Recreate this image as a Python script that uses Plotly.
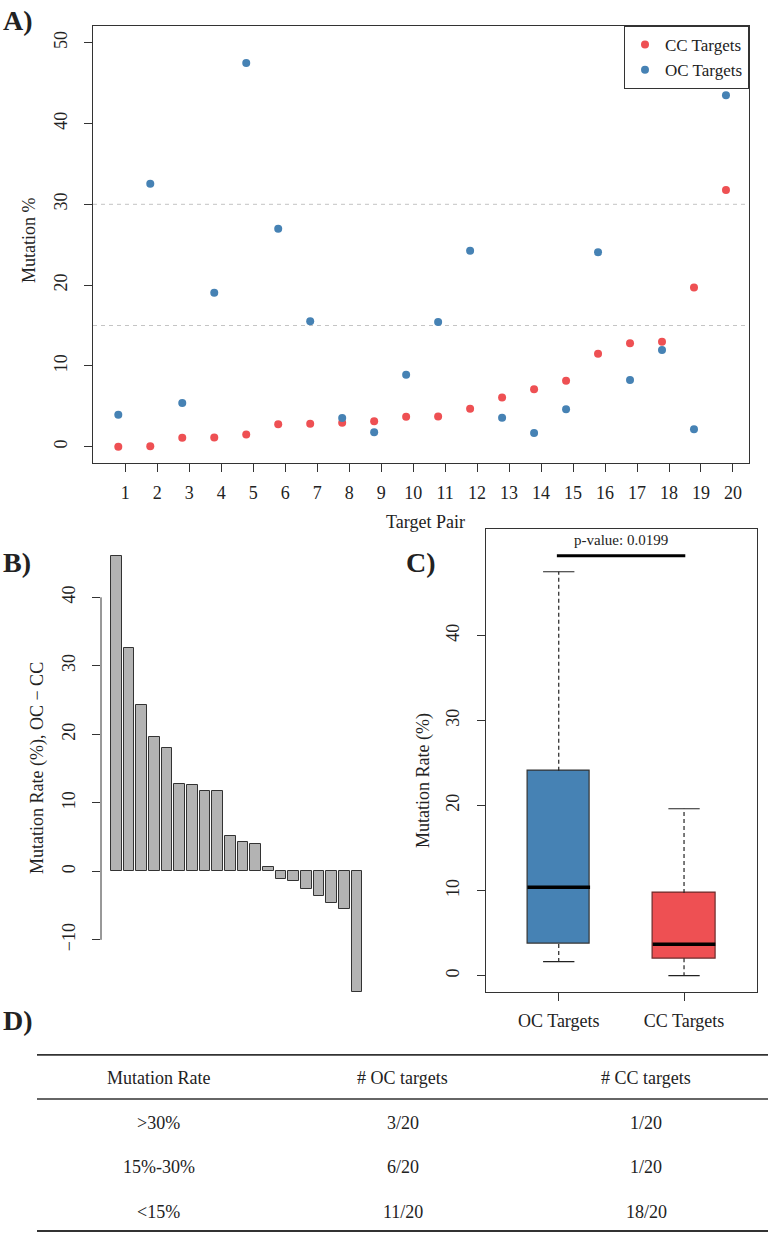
import plotly.graph_objects as go

# ---------------- data ----------------
pairs = list(range(1, 21))
pair_labels = [str(i) for i in pairs]
cc_targets = [0.0, 0.05, 1.1, 1.15, 1.5, 2.77, 2.85, 2.97, 3.14, 3.71,
              3.75, 4.7, 6.1, 7.1, 8.17, 11.5, 12.8, 13.0, 19.7, 31.77]
oc_targets = [3.96, 32.55, 5.41, 19.06, 47.49, 26.98, 15.52, 3.55, 1.78, 8.91,
              15.43, 24.26, 3.59, 1.70, 4.63, 24.06, 8.25, 11.97, 2.15, 43.49]
thresholds = [15, 30]

diff_sorted = [46.0, 32.55, 24.28, 19.56, 17.95, 12.74, 12.55, 11.72, 11.67, 5.2,
               4.33, 3.94, 0.58, -1.07, -1.36, -2.54, -3.6, -4.58, -5.5, -17.58]

box_groups = ["OC Targets", "CC Targets"]
box_q1 = [3.72, 2.04]
box_median = [10.39, 3.69]
box_q3 = [24.09, 9.72]
box_low = [1.65, 0.0]
box_high = [47.47, 19.62]
p_value_text = "p-value: 0.0199"

table_header = ["Mutation Rate", "# OC targets", "# CC targets"]
table_rows = [
    [">30%", "3/20", "1/20"],
    ["15%-30%", "6/20", "1/20"],
    ["<15%", "11/20", "18/20"],
]

# ---------------- style ----------------
W, H = 770, 1233
FONT = "Liberation Serif, Times New Roman, serif"
RED = "#EE5053"
BLUE = "#4682B4"
INK = "#222222"


def X(px):
    return px / W


def Y(py):
    return 1 - py / H


fig = go.Figure()

# ---- Panel A ----
fig.add_trace(go.Scatter(x=pairs, y=cc_targets, mode="markers", name="CC Targets",
                         marker=dict(color=RED, size=8), xaxis="x", yaxis="y"))
fig.add_trace(go.Scatter(x=pairs, y=oc_targets, mode="markers", name="OC Targets",
                         marker=dict(color=BLUE, size=8), xaxis="x", yaxis="y"))
for t in thresholds:
    fig.add_shape(type="line", xref="x domain", yref="y", x0=0, x1=1, y0=t, y1=t,
                  line=dict(color="#C4C4C4", width=1, dash="4px,4px"), layer="below")

# ---- Panel B ----
bar_pos = list(range(1, len(diff_sorted) + 1))
fig.add_trace(go.Bar(x=bar_pos, y=diff_sorted, width=1 / 1.2, showlegend=False,
                     marker=dict(color="#B3B3B3", line=dict(color="#333333", width=1)),
                     xaxis="x2", yaxis="y2"))
fig.add_shape(type="line", xref="x2 domain", yref="y2", x0=0, x1=0, y0=-10, y1=40,
              line=dict(color="#333333", width=1))

# ---- Panel C ----
gpos = [1, 2]
fig.add_trace(go.Bar(x=gpos, y=[q3 - q1 for q1, q3 in zip(box_q1, box_q3)], base=box_q1,
                     width=0.5, showlegend=False,
                     marker=dict(color=[BLUE, RED], line=dict(color=["#333333", "#6B2B2B"], width=1.2)),
                     xaxis="x3", yaxis="y3"))
for i, g in enumerate(gpos):
    fig.add_trace(go.Scatter(x=[g, g], y=[box_q3[i], box_high[i]], mode="lines", showlegend=False,
                             line=dict(color=INK, width=1.2, dash="4px,3px"),
                             xaxis="x3", yaxis="y3"))
    fig.add_trace(go.Scatter(x=[g, g], y=[box_q1[i], box_low[i]], mode="lines", showlegend=False,
                             line=dict(color=INK, width=1.2, dash="4px,3px"),
                             xaxis="x3", yaxis="y3"))
    for v in (box_high[i], box_low[i]):
        fig.add_trace(go.Scatter(x=[g - 0.125, g + 0.125], y=[v, v], mode="lines", showlegend=False,
                                 line=dict(color=INK, width=1.2), xaxis="x3", yaxis="y3"))
    fig.add_trace(go.Scatter(x=[g - 0.25, g + 0.25], y=[box_median[i], box_median[i]], mode="lines",
                             showlegend=False, line=dict(color="black", width=3.5),
                             xaxis="x3", yaxis="y3"))
fig.add_trace(go.Scatter(x=[0.985, 2.01], y=[49.35, 49.35], mode="lines", showlegend=False,
                         line=dict(color="black", width=3.2), xaxis="x3", yaxis="y3"))
fig.add_annotation(x=1.5, y=51.2, xref="x3", yref="y3", text=p_value_text, showarrow=False,
                   font=dict(size=15, family=FONT, color=INK))

# ---- Panel D (table) ----
for c, txt in enumerate(table_header):
    fig.add_annotation(x=c + 0.5, y=0, xref="x4", yref="y4", text=txt, showarrow=False,
                       font=dict(size=18, family=FONT, color=INK))
for r, row in enumerate(table_rows):
    for c, txt in enumerate(row):
        fig.add_annotation(x=c + 0.5, y=r + 1, xref="x4", yref="y4", text=txt.replace("<", "&lt;"),
                           showarrow=False, font=dict(size=18, family=FONT, color=INK))
for yv, w in ((-0.52, 2), (0.47, 1.6), (3.43, 2.6)):
    fig.add_shape(type="line", xref="x4 domain", yref="y4", x0=0, x1=1, y0=yv, y1=yv,
                  line=dict(color="#333333", width=w))

# ---------------- axes ----------------
tickfont = dict(size=18, family=FONT, color=INK)
common = dict(showgrid=False, zeroline=False, ticks="outside", ticklen=8, tickcolor="#333333",
              tickfont=tickfont)

fig.update_layout(
    width=W, height=H, margin=dict(l=0, r=0, t=0, b=0),
    paper_bgcolor="white", plot_bgcolor="white",
    font=dict(family=FONT, color=INK),
    xaxis=dict(domain=[X(93), X(749)], range=[0.209, 20.72],
               tickvals=[p + 0.219 for p in pairs], ticktext=pair_labels,
               showline=True, mirror=True, linecolor="#333333", linewidth=1.2,
               ticklabelstandoff=5, anchor="y", **common),
    yaxis=dict(domain=[Y(463), Y(26)], range=[-2.02, 52.07],
               tickvals=[0, 10, 20, 30, 40, 50], tickangle=-90,
               showline=True, mirror=True, linecolor="#333333", linewidth=1.2,
               ticklabelstandoff=10, anchor="x", **common),
    xaxis2=dict(domain=[X(101), X(372.4)], range=[-0.217, 21.217], visible=False, anchor="y2"),
    yaxis2=dict(domain=[Y(1009), Y(539)], range=[-20.09, 48.51],
                tickvals=[-10, 0, 10, 20, 30, 40],
                tickangle=-90, showline=False, ticklabelstandoff=10, anchor="x2", **common),
    xaxis3=dict(domain=[X(485.7), X(756.7)], range=[0.417, 2.58],
                tickvals=gpos, ticktext=box_groups,
                showline=True, mirror=True, linecolor="#333333", linewidth=1.2,
                ticklabelstandoff=5, anchor="y3", **common),
    yaxis3=dict(domain=[Y(991.7), Y(528.7)], range=[-1.88, 52.53],
                tickvals=[0, 10, 20, 30, 40], tickangle=-90,
                showline=True, mirror=True, linecolor="#333333", linewidth=1.2,
                ticklabelstandoff=10, anchor="x3", **common),
    xaxis4=dict(domain=[X(37), X(768)], range=[0, 3], visible=False, anchor="y4"),
    yaxis4=dict(domain=[Y(1232), Y(1054)], range=[3.447, -0.537], visible=False, anchor="x4"),
    legend=dict(x=X(749), y=Y(26), xanchor="right", yanchor="top",
                bordercolor="#333333", borderwidth=1, bgcolor="white",
                font=dict(size=17, family=FONT, color=INK),
                itemwidth=30, tracegroupgap=0),
    bargap=0,
)


def label(txt, px, py, size=18, angle=0, bold=False):
    fig.add_annotation(x=X(px), y=Y(py), xref="paper", yref="paper",
                       text=f"<b>{txt}</b>" if bold else txt, showarrow=False, textangle=angle,
                       font=dict(size=size, family=FONT, color=INK),
                       xanchor="center", yanchor="middle")


label("Mutation %", 29, 240, angle=-90)
label("Target Pair", 425, 522)
label("Mutation Rate (%), OC \u2212 CC", 37, 768, angle=-90)
label("Mutation Rate (%)", 423, 781, angle=-90)
label("A)", 18, 20, size=28, bold=True)
label("B)", 17, 562, size=28, bold=True)
label("C)", 421, 562, size=28, bold=True)
label("D)", 18, 1020, size=28, bold=True)

fig.write_html("out.html", config={"displayModeBar": False},
               post_script="document.body.style.margin='0';document.body.style.overflow='hidden';")
